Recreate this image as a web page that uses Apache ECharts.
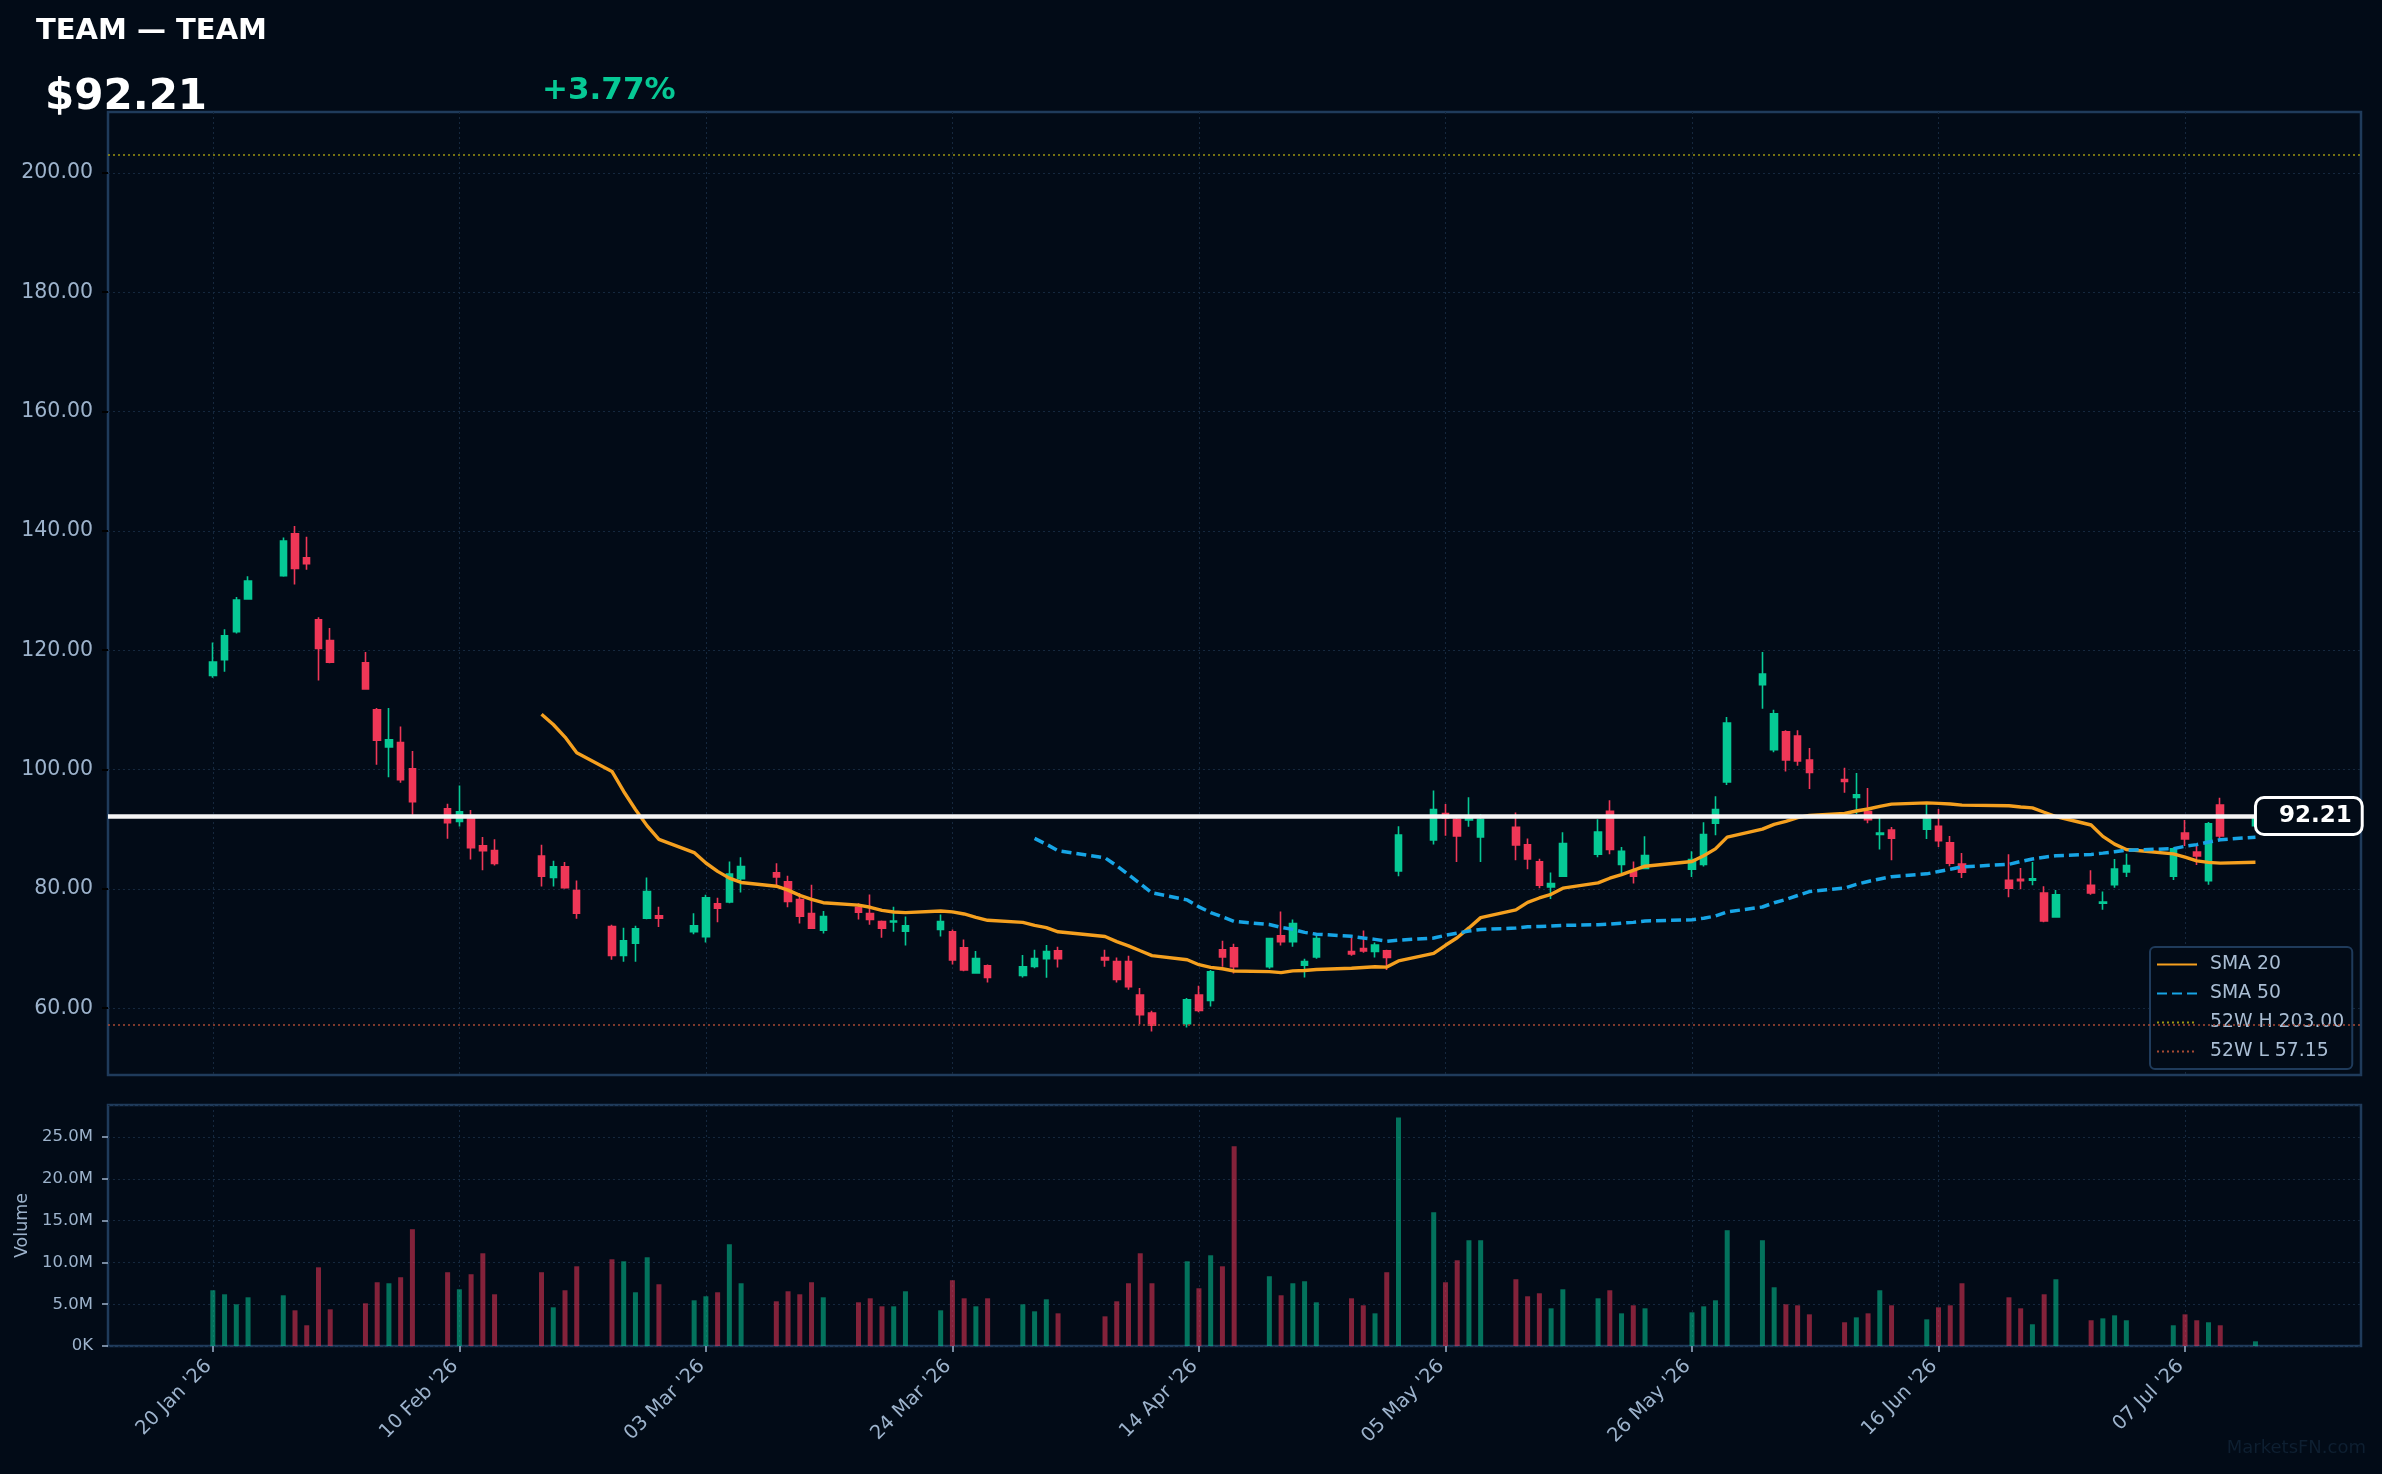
<!DOCTYPE html>
<html>
<head>
<meta charset="utf-8">
<title>TEAM</title>
<script src="https://cdn.jsdelivr.net/npm/echarts@6/dist/echarts.min.js"></script>
<style>
  html, body { margin: 0; padding: 0; background: #020b17; }
  #chart { width: 2382px; height: 1474px; }
</style>
</head>
<body>
<div id="chart"></div>
<script>
// daily bars
var dates = ['2026-01-20','2026-01-21','2026-01-22','2026-01-23','2026-01-26','2026-01-27','2026-01-28','2026-01-29','2026-01-30',
  '2026-02-02','2026-02-03','2026-02-04','2026-02-05','2026-02-06','2026-02-09','2026-02-10','2026-02-11','2026-02-12','2026-02-13',
  '2026-02-17','2026-02-18','2026-02-19','2026-02-20','2026-02-23','2026-02-24','2026-02-25','2026-02-26','2026-02-27',
  '2026-03-02','2026-03-03','2026-03-04','2026-03-05','2026-03-06','2026-03-09','2026-03-10','2026-03-11','2026-03-12','2026-03-13',
  '2026-03-16','2026-03-17','2026-03-18','2026-03-19','2026-03-20','2026-03-23','2026-03-24','2026-03-25','2026-03-26','2026-03-27',
  '2026-03-30','2026-03-31','2026-04-01','2026-04-02','2026-04-06','2026-04-07','2026-04-08','2026-04-09','2026-04-10',
  '2026-04-13','2026-04-14','2026-04-15','2026-04-16','2026-04-17','2026-04-20','2026-04-21','2026-04-22','2026-04-23','2026-04-24',
  '2026-04-27','2026-04-28','2026-04-29','2026-04-30','2026-05-01','2026-05-04','2026-05-05','2026-05-06','2026-05-07','2026-05-08',
  '2026-05-11','2026-05-12','2026-05-13','2026-05-14','2026-05-15','2026-05-18','2026-05-19','2026-05-20','2026-05-21','2026-05-22',
  '2026-05-26','2026-05-27','2026-05-28','2026-05-29','2026-06-01','2026-06-02','2026-06-03','2026-06-04','2026-06-05',
  '2026-06-08','2026-06-09','2026-06-10','2026-06-11','2026-06-12','2026-06-15','2026-06-16','2026-06-17','2026-06-18',
  '2026-06-22','2026-06-23','2026-06-24','2026-06-25','2026-06-26','2026-06-29','2026-06-30','2026-07-01','2026-07-02',
  '2026-07-06','2026-07-07','2026-07-08','2026-07-09','2026-07-10','2026-07-13'];

var open = [115.75,118.4,123.1,128.6,132.5,139.5,135.5,125.1,121.6,
  117.9,110.0,103.8,104.5,100.1,93.4,91.3,92.3,87.2,86.4,
  85.5,81.9,83.7,79.7,73.7,68.85,70.9,75.1,75.5,
  72.8,72.0,77.5,77.8,81.7,82.7,81.2,78.2,75.85,73.05,
  76.9,75.85,74.5,74.45,72.9,73.2,72.8,70.1,65.9,67.1,
  65.5,67.0,68.3,69.6,68.5,67.8,67.8,62.2,59.2,
  57.4,62.2,61.3,69.8,70.1,66.95,72.15,71.15,67.2,68.6,
  69.5,70.0,69.5,69.6,83.0,88.2,92.6,91.65,91.55,88.7,
  90.3,87.4,84.55,80.3,82.1,85.8,93.0,84.1,82.9,83.4,
  83.3,84.1,91.0,97.9,114.2,103.3,106.3,105.6,101.6,
  98.3,95.3,92.95,89.1,89.85,90.0,90.5,87.7,84.15,
  81.45,81.6,81.45,79.3,75.3,80.6,77.6,80.7,82.85,
  82.1,89.35,86.15,81.35,94.05,90.6];

var high = [121.3,123.5,128.9,132.4,138.9,140.8,139.0,125.5,123.7,
  119.7,110.3,110.3,107.2,103.1,94.25,97.3,93.2,88.7,88.3,
  87.4,84.7,84.5,81.4,74.0,73.5,73.8,81.9,77.0,
  75.9,79.0,78.5,84.6,85.3,84.3,82.2,79.3,80.7,76.3,
  77.6,79.05,74.7,77.0,75.35,75.7,73.2,71.5,69.6,67.3,
  68.9,69.8,70.6,70.3,69.8,68.5,68.8,63.4,59.55,
  61.7,63.75,66.4,71.3,70.8,71.8,76.2,74.85,68.3,72.15,
  72.0,73.0,71.0,69.8,90.5,96.5,94.2,92.2,95.35,92.5,
  92.8,88.45,85.05,82.75,89.5,91.65,94.85,87.0,84.6,88.8,
  86.3,91.15,95.5,108.8,119.7,110.0,106.6,106.6,103.6,
  100.3,99.4,96.9,92.0,90.35,94.2,93.4,88.85,86.0,
  85.8,83.5,84.5,80.45,79.8,83.1,79.55,85.0,85.9,
  86.95,91.55,87.35,91.2,95.25,93.2];

var low = [115.4,116.4,122.8,128.5,132.3,131.0,133.5,114.9,117.8,
  113.4,100.8,98.7,97.8,92.4,88.4,90.45,84.9,83.1,83.9,
  80.4,80.4,80.0,75.0,68.1,67.8,67.8,74.9,73.6,
  72.4,71.0,74.4,77.6,79.4,80.45,76.9,74.2,73.4,72.5,
  74.85,74.0,71.8,72.8,70.5,72.0,67.3,66.2,65.8,64.3,
  65.15,66.7,65.1,66.8,66.95,64.3,63.1,57.25,56.1,
  56.75,59.3,60.3,66.95,65.8,66.6,70.5,70.3,65.15,68.3,
  68.8,69.3,68.5,66.4,82.1,87.45,88.9,84.5,90.4,84.5,
  84.8,83.3,80.1,78.3,82.1,85.3,85.8,82.6,80.9,83.4,
  82.0,83.75,89.0,97.4,110.2,102.9,99.65,100.65,96.75,
  96.1,92.55,91.0,86.6,84.8,88.35,87.0,83.8,81.8,
  78.6,79.95,80.6,74.4,75.3,79.0,76.5,80.2,82.0,
  81.5,87.2,84.0,80.7,88.2,90.3];

var close = [118.0,122.4,128.4,131.6,138.3,133.7,134.5,120.3,118.0,
  113.5,104.9,105.0,98.3,94.6,91.1,92.9,86.9,86.4,84.25,
  82.1,83.7,80.2,75.9,68.85,71.3,73.3,79.55,75.1,
  73.8,78.5,76.75,82.5,83.75,82.0,77.9,75.4,73.4,75.35,
  76.1,74.85,73.4,74.6,73.8,74.5,68.1,66.4,68.3,65.15,
  66.95,68.3,69.5,68.3,68.1,64.8,63.6,58.9,57.15,
  61.4,59.6,66.1,68.6,66.95,71.65,71.15,74.2,67.8,71.65,
  69.1,69.6,70.6,68.5,89.0,93.3,91.9,88.85,91.9,91.65,
  87.35,85.0,80.6,80.9,87.6,89.5,86.6,86.3,82.1,85.6,
  84.9,89.1,93.3,107.8,116.0,109.35,101.6,101.45,99.5,
  98.0,95.75,91.6,89.35,88.5,91.7,88.05,84.3,82.8,
  80.1,81.35,81.7,74.6,79.0,79.3,77.8,83.3,83.9,
  86.7,88.35,85.5,90.9,88.86,92.21];

// volume in millions
var volume = [6.67,6.19,4.99,5.83,6.07,4.27,2.48,9.42,4.39,
  5.11,7.63,7.51,8.23,13.98,8.83,6.79,8.59,11.1,6.19,
  8.83,4.63,6.67,9.54,10.38,10.14,6.43,10.62,7.39,
  5.47,5.95,6.43,12.18,7.51,5.35,6.55,6.19,7.63,5.83,
  5.23,5.71,4.75,4.75,6.55,4.27,7.87,5.71,4.75,5.71,
  4.99,4.15,5.59,3.91,3.55,5.35,7.51,11.1,7.51,
  10.14,6.91,10.86,9.54,23.92,8.35,6.07,7.51,7.75,5.23,
  5.71,4.87,3.91,8.83,27.36,16.01,7.63,10.26,12.66,12.66,
  7.99,5.95,6.31,4.51,6.79,5.71,6.67,3.91,4.87,4.51,
  4.03,4.75,5.47,13.86,12.66,7.03,4.99,4.87,3.79,
  2.84,3.43,3.91,6.67,4.87,3.19,4.63,4.87,7.51,
  5.83,4.51,2.60,6.19,7.99,3.08,3.31,3.67,3.08,
  2.48,3.79,3.08,2.84,2.48,0.56];

var priceTicks = [60, 80, 100, 120, 140, 160, 180, 200];
var dateTicks = ['2026-01-20','2026-02-10','2026-03-03','2026-03-24','2026-04-14','2026-05-05','2026-05-26','2026-06-16','2026-07-07'];
var high52 = 203.00;
var low52 = 57.15;

var UP = '#06c995', DOWN = '#ef3757';
var FONT = 'DejaVu Sans';
var LABEL = '#9db3cc';
var GRIDLINE = '#15283e';
var SPINE = '#1f3b5b';

var DAY = 86400000;
var origin = Date.UTC(2026, 0, 20);
function dayOf(s) {
  var p = s.split('-');
  return Math.round((Date.UTC(+p[0], +p[1] - 1, +p[2]) - origin) / DAY);
}
var MON = ['Jan','Feb','Mar','Apr','May','Jun','Jul','Aug','Sep','Oct','Nov','Dec'];
function fmtDate(d) {
  var t = new Date(origin + Math.round(d) * DAY);
  var dd = t.getUTCDate();
  return (dd < 10 ? '0' + dd : dd) + ' ' + MON[t.getUTCMonth()] + " '" + String(t.getUTCFullYear()).slice(2);
}

var xs = dates.map(dayOf);
var xTicks = dateTicks.map(dayOf);
var xMin = -8.93, xMax = 182.99;

var candles = xs.map(function (x, i) { return [x, open[i], close[i], low[i], high[i]]; });
var vols = xs.map(function (x, i) {
  var up = close[i] >= open[i];
  return { value: [x, volume[i]], itemStyle: { color: up ? 'rgba(6,201,149,0.55)' : 'rgba(239,55,87,0.55)' } };
});

function sma(n) {
  var out = [];
  for (var i = n - 1; i < close.length; i++) {
    var s = 0;
    for (var j = i - n + 1; j <= i; j++) s += close[j];
    out.push([xs[i], s / n]);
  }
  return out;
}

var last = close.length - 1;
var chg = (close[last] / close[last - 1] - 1) * 100;

var chart = echarts.init(document.getElementById('chart'), null, { renderer: 'canvas' });

var splitStyle = { show: true, lineStyle: { color: GRIDLINE, width: 1, type: [2, 3] } };

chart.setOption({
  backgroundColor: '#020b17',
  animation: false,
  textStyle: { fontFamily: FONT },
  grid: [
    { left: 108, top: 112, width: 2253, height: 963, show: true, borderColor: SPINE, borderWidth: 2.5, backgroundColor: 'transparent', outerBoundsMode: 'none' },
    { left: 108, top: 1105, width: 2253, height: 241, show: true, borderColor: SPINE, borderWidth: 2.5, backgroundColor: 'transparent', outerBoundsMode: 'none' }
  ],
  xAxis: [
    {
      type: 'value', gridIndex: 0, min: xMin, max: xMax,
      axisLine: { show: false, onZero: false }, axisTick: { show: false, customValues: xTicks },
      axisLabel: { show: false, customValues: xTicks },
      splitLine: splitStyle
    },
    {
      type: 'value', gridIndex: 1, min: xMin, max: xMax,
      axisLine: { show: false, onZero: false },
      axisTick: { show: true, length: 6, lineStyle: { color: LABEL, width: 1.5 }, customValues: xTicks },
      axisLabel: { show: true, customValues: xTicks, rotate: 45, margin: 13, padding: [0, 6, 0, 0], color: LABEL, fontSize: 19.5, fontFamily: FONT, formatter: fmtDate },
      splitLine: splitStyle
    }
  ],
  yAxis: [
    {
      type: 'value', gridIndex: 0, min: 48.8, max: 210.2, position: 'left',
      axisLine: { show: false, onZero: false },
      axisTick: { show: true, length: 6, lineStyle: { color: '#000000', width: 2 }, customValues: priceTicks },
      axisLabel: { customValues: priceTicks, color: LABEL, fontSize: 20.5, fontFamily: FONT, margin: 15,
        formatter: function (v) { return v.toFixed(2); } },
      splitLine: splitStyle
    },
    {
      type: 'value', gridIndex: 1, min: 0, max: 28.85, interval: 5, position: 'left',
      name: 'Volume', nameLocation: 'middle', nameGap: 76, nameRotate: 90,
      nameTextStyle: { color: LABEL, fontSize: 17.5, fontFamily: FONT },
      axisLine: { show: false, onZero: false },
      axisTick: { show: true, length: 6, lineStyle: { color: LABEL, width: 1.5 } },
      axisLabel: { color: LABEL, fontSize: 16.5, fontFamily: FONT, margin: 15, showMaxLabel: false,
        formatter: function (v) { return v === 0 ? '0K' : (v % 5 === 0 ? v.toFixed(1) + 'M' : ''); } },
      splitLine: splitStyle
    }
  ],
  legend: {
    orient: 'vertical', left: 2150, top: 947,
    padding: [8, 8, 8, 6], itemGap: 10, itemWidth: 40, itemHeight: 14,
    backgroundColor: '#020b17', borderColor: SPINE, borderWidth: 2, borderRadius: 5,
    itemStyle: { opacity: 0 },
    textStyle: { color: '#a9bdd3', fontSize: 18.8, fontFamily: FONT, padding: [0, 0, 0, 8] },
    data: ['SMA 20', 'SMA 50', '52W H 203.00', '52W L 57.15'],
    selectedMode: false
  },
  graphic: [
    { type: 'text', x: 36, y: 17, style: { text: 'TEAM \u2014 TEAM', fill: '#ffffff', font: 'bold 29px "DejaVu Sans"', verticalAlign: 'top' } },
    { type: 'text', x: 45, y: 77, style: { text: '$' + close[last].toFixed(2), fill: '#ffffff', font: 'bold 42px "DejaVu Sans"', verticalAlign: 'top' } },
    { type: 'text', x: 542, y: 75, style: { text: (chg >= 0 ? '+' : '') + chg.toFixed(2) + '%', fill: chg >= 0 ? UP : DOWN, font: 'bold 31px "DejaVu Sans"', verticalAlign: 'top' } },
    { type: 'text', right: 16, top: 1439, style: { text: 'MarketsFN.com', fill: '#0e1f31', font: '18px "DejaVu Sans"' } }
  ],
  series: [
    {
      name: 'price', type: 'candlestick', xAxisIndex: 0, yAxisIndex: 0,
      barWidth: 7,
      itemStyle: { color: UP, color0: DOWN, borderColor: UP, borderColor0: DOWN, borderWidth: 1.6 },
      data: candles,
      markLine: {
        silent: true, symbol: ['none', 'none'], animation: false,
        label: { show: false },
        data: [
          { yAxis: high52, lineStyle: { color: '#9a9412', width: 1.6, type: [2, 3] } },
          { yAxis: low52, lineStyle: { color: '#a84a35', width: 1.6, type: [2, 3] } },
          { yAxis: close[last], lineStyle: { color: '#f4f4f4', width: 4.5, type: 'solid' } }
        ]
      },
      markPoint: {
        silent: true, symbol: 'rect', symbolSize: 1,
        itemStyle: { color: 'transparent' },
        label: {
          show: true, position: 'right', distance: 1,
          formatter: close[last].toFixed(2),
          color: '#ffffff', fontSize: 23, fontWeight: 'bold', fontFamily: FONT,
          backgroundColor: '#020b17', borderColor: '#ffffff', borderWidth: 3, borderRadius: 7,
          padding: [6, 9, 5, 22]
        },
        data: [{ coord: [xs[last], close[last]] }]
      }
    },
    {
      name: 'SMA 20', type: 'line', xAxisIndex: 0, yAxisIndex: 0,
      data: sma(20), symbol: 'none', showSymbol: false,
      lineStyle: { color: '#f5a01f', width: 3.4 }, itemStyle: { color: '#f5a01f' }, z: 3
    },
    {
      name: 'SMA 50', type: 'line', xAxisIndex: 0, yAxisIndex: 0,
      data: sma(50), symbol: 'none', showSymbol: false,
      lineStyle: { color: '#17a5e6', width: 3.5, type: [10, 5] }, itemStyle: { color: '#17a5e6' }, z: 3
    },
    {
      name: '52W H 203.00', type: 'line', xAxisIndex: 0, yAxisIndex: 0, data: [], symbol: 'none',
      lineStyle: { color: '#9a9412', width: 1.6, type: [2, 3] }, itemStyle: { color: '#9a9412' }
    },
    {
      name: '52W L 57.15', type: 'line', xAxisIndex: 0, yAxisIndex: 0, data: [], symbol: 'none',
      lineStyle: { color: '#a84a35', width: 1.6, type: [2, 3] }, itemStyle: { color: '#a84a35' }
    },
    {
      name: 'Volume', type: 'bar', xAxisIndex: 1, yAxisIndex: 1,
      barWidth: 5, data: vols
    }
  ]
});
</script>
</body>
</html>
